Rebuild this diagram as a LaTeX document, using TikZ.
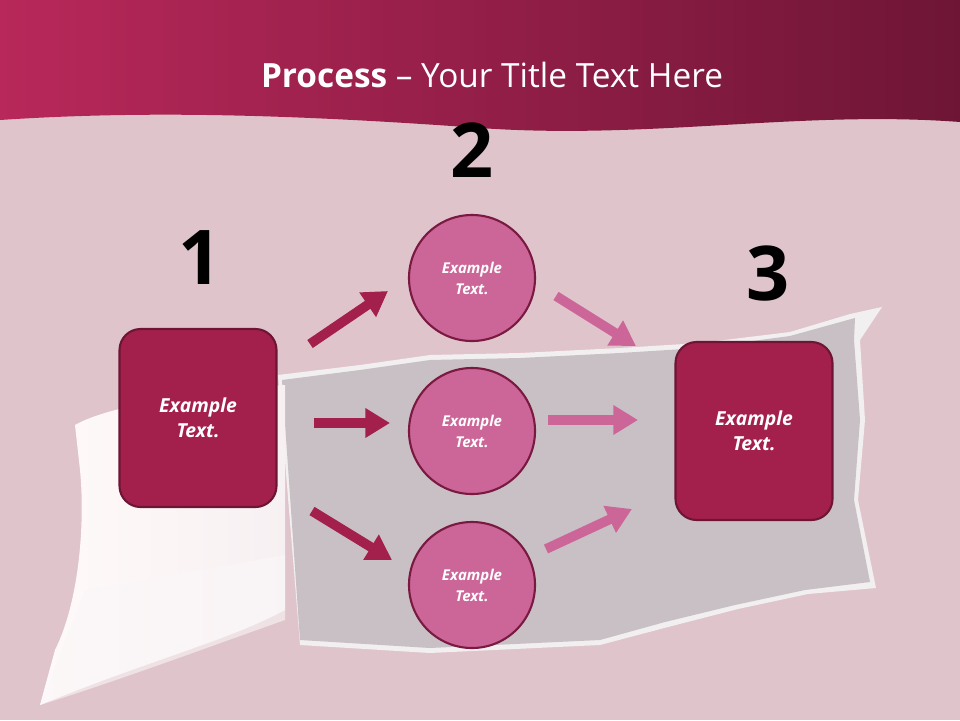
\documentclass[tikz,border=0pt]{standalone}
\usepackage{fontspec}
\setmainfont{Open Sans}
\usetikzlibrary{arrows.meta}
\definecolor{bg}{HTML}{E0C4CB}
\definecolor{hdA}{HTML}{B8285A}
\definecolor{hdB}{HTML}{6E1535}
\definecolor{boxf}{HTML}{A3204C}
\definecolor{boxd}{HTML}{6E1535}
\definecolor{circf}{HTML}{CC6699}
\definecolor{circd}{HTML}{7A1A40}
\definecolor{torn}{HTML}{C8C0C4}
\tikzset{
 box/.style={draw=boxd,line width=1.2pt,fill=boxf,rounded corners=12pt,minimum width=157*0.02cm,minimum height=178*0.02cm,text=white,font=\bfseries\itshape\fontsize{11}{14}\selectfont,align=center},
 circ/.style={circle,draw=circd,line width=1.2pt,fill=circf,minimum size=126*0.02cm,text=white,font=\bfseries\itshape\fontsize{8.5}{12}\selectfont,align=center},
 num/.style={font=\bfseries\fontsize{43}{48}\selectfont},
 arr/.style={line width=5.5pt,-{Triangle[length=14pt,width=16pt]}},
 dk/.style={arr,draw=boxf},
 lt/.style={arr,draw=circf}
}
\begin{document}
\begin{tikzpicture}[x=0.02cm,y=-0.02cm]
\fill[bg] (0,0) rectangle (960,720);
\useasboundingbox (0,0) rectangle (960,720);
% torn area
\fill[white!75!torn] (278,375) -- (360,365) -- (430,355) -- (520,353) -- (620,348) -- (700,343) -- (790,332) -- (850,314) -- (882,307) -- (860,340) -- (865,420) -- (858,500) -- (876,588) -- (808,594) -- (738,609) -- (668,627) -- (600,645) -- (430,653) -- (300,645) -- cycle;
\fill[torn] (282,380) -- (360,370) -- (430,360) -- (520,358) -- (620,353) -- (700,348) -- (790,336) -- (855,318) -- (854,340) -- (860,420) -- (854,500) -- (870,582) -- (805,590) -- (735,605) -- (665,622) -- (600,640) -- (430,648) -- (300,640) -- cycle;
% curl
\shade[left color=white!92!pink,right color=white!75!bg] (75,425) .. controls (110,405) and (200,392) .. (285,385) -- (285,610) .. controls (230,640) and (150,660) .. (40,705) -- (55,650) .. controls (80,600) and (85,520) .. (80,470) -- cycle;
\fill[white!85!bg,opacity=0.6] (85,590) -- (285,555) -- (285,620) .. controls (200,650) and (120,680) .. (40,705) -- cycle;
% header
\shade[left color=hdA,right color=hdB] (0,0) -- (960,0) -- (960,122) .. controls (800,110) and (650,140) .. (480,128) .. controls (300,115) and (150,110) .. (0,120) -- cycle;
\node[text=white,font=\fontsize{19}{22}\selectfont] (title) at (492,75) {\textbf{Process} – Your Title Text Here};
% numbers
\node[num] (n1) at (200,258) {1};
\node[num] (n2) at (472,150) {2};
\node[num] (n3) at (768,274) {3};
% nodes
\node[box] (b1) at (198,418) {Example\\Text.};
\node[box] (b3) at (754,431) {Example\\Text.};
\node[circ] (c1) at (472,278) {Example\\Text.};
\node[circ] (c2) at (472,431) {Example\\Text.};
\node[circ] (c3) at (472,585) {Example\\Text.};
% arrows
\coordinate (a1s) at (310,344); \coordinate (a1e) at (388,291);
\coordinate (a2s) at (314,423); \coordinate (a2e) at (390,423);
\coordinate (a3s) at (312,511); \coordinate (a3e) at (392,560);
\coordinate (a4s) at (556,296); \coordinate (a4e) at (636,346);
\coordinate (a5s) at (548,420); \coordinate (a5e) at (638,420);
\coordinate (a6s) at (546,549); \coordinate (a6e) at (632,509);
\draw[dk] (a1s) -- (a1e);
\draw[dk] (a2s) -- (a2e);
\draw[dk] (a3s) -- (a3e);
\draw[lt] (a4s) -- (a4e);
\draw[lt] (a5s) -- (a5e);
\draw[lt] (a6s) -- (a6e);
\end{tikzpicture}
\end{document}
